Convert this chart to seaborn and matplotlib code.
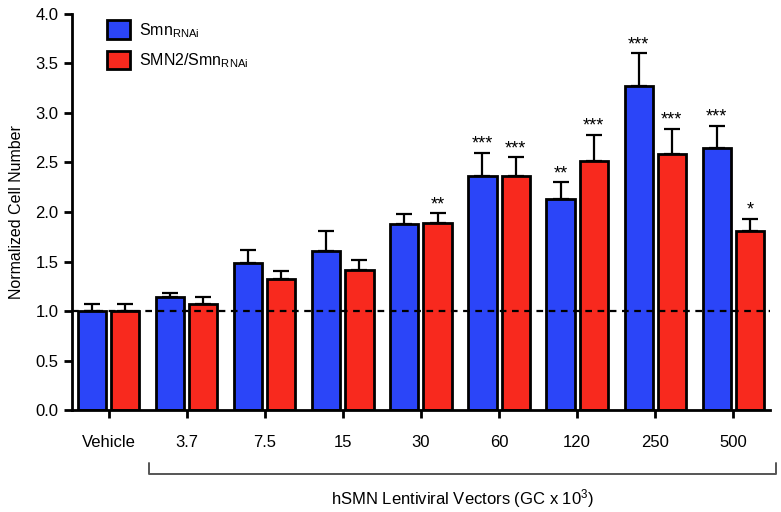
import numpy as np
import pandas as pd
import seaborn as sns
import matplotlib.pyplot as plt
from matplotlib import transforms

doses = ["Vehicle", "3.7", "7.5", "15", "30", "60", "120", "250", "500"]
groups = ["Smn$_{\\mathrm{RNAi}}$", "SMN2/Smn$_{\\mathrm{RNAi}}$"]

smn_mean = [1.00, 1.14, 1.48, 1.61, 1.88, 2.36, 2.13, 3.27, 2.65]
smn_err = [0.07, 0.04, 0.14, 0.20, 0.10, 0.24, 0.17, 0.33, 0.22]
smn_sig = ["", "", "", "", "", "***", "**", "***", "***"]

smn2_mean = [1.00, 1.07, 1.32, 1.41, 1.89, 2.36, 2.51, 2.59, 1.81]
smn2_err = [0.07, 0.07, 0.08, 0.11, 0.10, 0.19, 0.27, 0.25, 0.12]
smn2_sig = ["", "", "", "", "**", "***", "***", "***", "*"]

colors = ["#2b45f8", "#f8291e"]

sns.set_style("ticks", {"axes.edgecolor": "black", "xtick.color": "black",
                        "ytick.color": "black", "text.color": "black",
                        "axes.labelcolor": "black"})
plt.rcParams['font.family'] = ['Liberation Sans', 'DejaVu Sans']
plt.rcParams['mathtext.fontset'] = 'custom'
plt.rcParams['mathtext.rm'] = 'Liberation Sans'
plt.rcParams['mathtext.it'] = 'Liberation Sans:italic'

df = pd.DataFrame({
    "dose": doses * 2,
    "value": smn_mean + smn2_mean,
    "group": [groups[0]] * len(doses) + [groups[1]] * len(doses),
})

fig = plt.figure(figsize=(7.81, 5.12), dpi=100)
ax = fig.add_axes([0.092, 0.199, 0.894, 0.774])

sns.barplot(data=df, x="dose", y="value", hue="group", order=doses,
            hue_order=groups, palette=colors, errorbar=None,
            width=0.85, gap=0.15, edgecolor="black", linewidth=2,
            saturation=1, ax=ax, zorder=2)

# error bars + significance stars, placed on the drawn bars
errs = [smn_err, smn2_err]
sigs = [smn_sig, smn2_sig]
means = [smn_mean, smn2_mean]
bar_conts = list(ax.containers)
for gi, cont in enumerate(bar_conts):
    for i, bar in enumerate(cont.patches):
        xc = bar.get_x() + bar.get_width() / 2
        top = means[gi][i]
        e = errs[gi][i]
        ax.errorbar(xc, top, yerr=[[0], [e]], fmt="none", ecolor="black",
                    elinewidth=1.6, capsize=5.5, capthick=1.6, zorder=1)
        if sigs[gi][i]:
            ax.text(xc, top + e + 0.04, sigs[gi][i], ha="center",
                    va="baseline", fontsize=13)

ax.axhline(1.0, color="black", linestyle=(0, (3, 2.5)), linewidth=1.6, zorder=3)

ax.set_ylim(0, 4.0)
ax.set_xlim(-0.47, 8.47)
ax.set_yticks(np.arange(0, 4.01, 0.5))
ax.set_yticklabels([f"{v:.1f}" for v in np.arange(0, 4.01, 0.5)])
ax.set_xlabel("")
ax.set_ylabel("Normalized Cell Number", fontsize=11.5, labelpad=8)
ax.tick_params(axis="y", labelsize=12, width=2, length=6)
ax.tick_params(axis="x", labelsize=12, width=2, length=6, pad=12)
for s in ["left", "bottom"]:
    ax.spines[s].set_linewidth(2)
sns.despine(ax=ax)

leg = ax.legend(loc="upper left", bbox_to_anchor=(0.03, 1.02), frameon=False,
                fontsize=11.5, handlelength=1.4, handleheight=1.4,
                labelspacing=0.7, handletextpad=0.6)

# bracket under the vector doses
trans = transforms.blended_transform_factory(ax.transData, ax.transAxes)
ax.plot([0.52, 0.52, 8.54, 8.54], [-0.134, -0.162, -0.162, -0.134],
        color="#555555", linewidth=1.4, transform=trans, clip_on=False)
ax.text((0.52 + 8.54) / 2, -0.195, "hSMN Lentiviral Vectors (GC x 10$^{3}$)",
        ha="center", va="top", fontsize=12, transform=trans)

fig.savefig("out.png", dpi=100)
